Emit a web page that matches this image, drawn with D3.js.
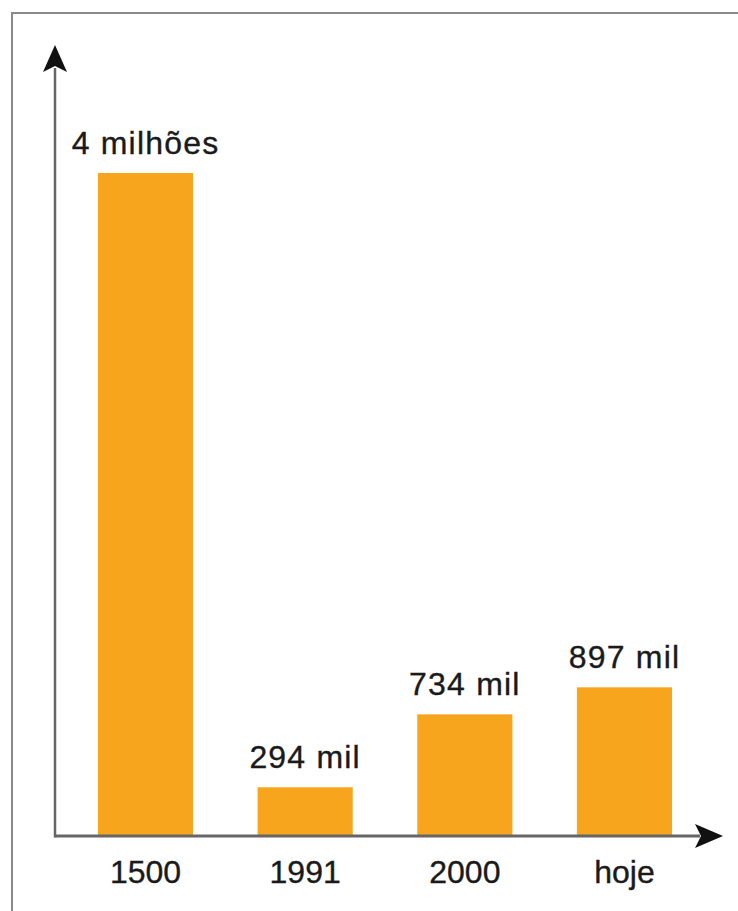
<!DOCTYPE html>
<html lang="pt">
	<head>
		<meta charset="utf-8">
		<title>Grafico de barras</title>
		<script type="text/javascript" src="https://d3js.org/d3.v7.min.js"></script>
		<style type="text/css">
			body { margin: 0; background: #fff; }
			text { font-family: "Liberation Sans", Arial, sans-serif; fill: #1a1a1a; stroke: #1a1a1a; stroke-width: 0.35px; }
		</style>
	</head>
	<body>
		<script type="text/javascript">

			//Data
			var categories = ["1500", "1991", "2000", "hoje"];
			var values = [4000, 294, 734, 897];   // em milhares
			var valueLabels = ["4 milhões", "294 mil", "734 mil", "897 mil"];

			//Width and height
			var w = 738;
			var h = 911;
			var x0 = 55, yBase = 836;

			var svg = d3.select("body")
				.append("svg")
				.attr("width", w)
				.attr("height", h);

			//Frame
			svg.append("rect")
				.attr("x", 12).attr("y", 13)
				.attr("width", 800).attr("height", 1000)
				.attr("fill", "none")
				.attr("stroke", "#8a8a8a")
				.attr("stroke-width", 2);

			//Scales
			var x = d3.scaleBand()
				.domain(categories)
				.range([66, 704])
				.paddingInner(0.404)
				.paddingOuter(0.2);

			var y = d3.scaleLinear()
				.domain([0, 4000])
				.range([yBase, 173]);

			//Bars
			svg.selectAll("rect.bar")
				.data(values)
				.enter()
				.append("rect")
				.attr("class", "bar")
				.attr("x", function(d, i) { return x(categories[i]); })
				.attr("y", function(d) { return y(d); })
				.attr("width", x.bandwidth())
				.attr("height", function(d) { return yBase - y(d); })
				.attr("fill", "#f7a51d");

			//Value labels
			svg.selectAll("text.val")
				.data(values)
				.enter()
				.append("text")
				.attr("class", "val")
				.attr("x", function(d, i) { return x(categories[i]) + x.bandwidth() / 2; })
				.attr("y", function(d) { return y(d) - 19; })
				.attr("text-anchor", "middle")
				.style("font-size", "32px")
				.style("letter-spacing", "1.2px")
				.text(function(d, i) { return valueLabels[i]; });

			//Axes with arrows
			var axisG = svg.append("g");
			axisG.append("line")
				.attr("x1", x0).attr("y1", yBase)
				.attr("x2", 700).attr("y2", yBase)
				.attr("stroke", "#666").attr("stroke-width", 3);
			axisG.append("line")
				.attr("x1", x0).attr("y1", yBase + 1.5)
				.attr("x2", x0).attr("y2", 68)
				.attr("stroke", "#666").attr("stroke-width", 2.5);

			axisG.append("path")
				.attr("d", "M723," + yBase + " L695," + (yBase - 12) + " L701," + yBase + " L695," + (yBase + 12) + " Z")
				.attr("fill", "#111");
			axisG.append("path")
				.attr("d", "M" + x0 + ",45 L" + (x0 - 12) + ",72 L" + x0 + ",66 L" + (x0 + 12) + ",72 Z")
				.attr("fill", "#111");

			//Category labels
			var xAxis = d3.axisBottom(x).tickSize(0).tickPadding(0);
			var xg = svg.append("g")
				.attr("transform", "translate(0," + yBase + ")")
				.call(xAxis);
			xg.select(".domain").remove();
			xg.selectAll("text")
				.attr("y", 47)
				.attr("dy", null)
				.style("font-size", "32px")
				.style("font-family", "\"Liberation Sans\", Arial, sans-serif")
				.attr("fill", "#1a1a1a");

		</script>
	</body>
</html>
